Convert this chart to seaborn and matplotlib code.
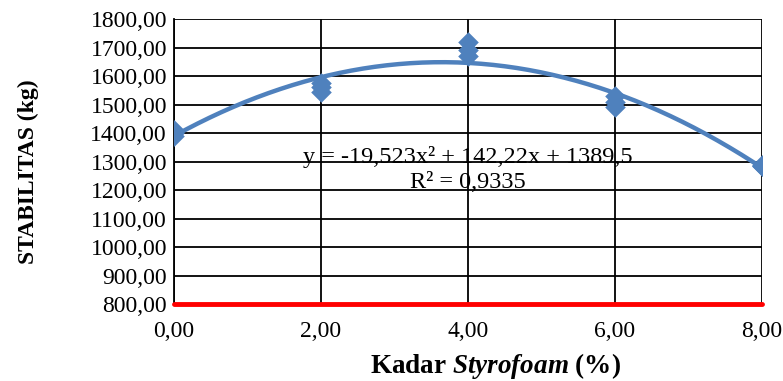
"""
Stabilitas vs kadar styrofoam with polynomial trendline
"""
import numpy as np
import pandas as pd
import matplotlib
matplotlib.use("Agg")
import matplotlib.pyplot as plt
import seaborn as sns

# data (three samples per styrofoam content)
kadar = [0, 0, 0, 2, 2, 2, 4, 4, 4, 6, 6, 6, 8, 8, 8]
stabilitas = [1390, 1400, 1410, 1545, 1560, 1575, 1670, 1692, 1720,
              1490, 1510, 1530, 1284, 1285, 1286]
coef = [-19.523, 142.22, 1389.5]  # trendline coefficients from the label
r2 = 0.9335
x_ticks = [0, 2, 4, 6, 8]
y_ticks = list(range(800, 1801, 100))

sns.set_theme(style="white")
plt.rcParams['font.family'] = ['Liberation Serif', 'DejaVu Serif']
plt.rcParams['text.color'] = 'black'
plt.rcParams['mathtext.fontset'] = 'custom'
plt.rcParams['mathtext.bf'] = 'Liberation Serif:bold'
plt.rcParams['mathtext.it'] = 'Liberation Serif:italic:bold'
plt.rcParams['mathtext.rm'] = 'Liberation Serif'

df = pd.DataFrame({'kadar': kadar, 'stabilitas': stabilitas})
xs = np.linspace(0, 8, 200)
trend = pd.DataFrame({'x': xs, 'y': np.polyval(coef, xs)})

fig = plt.figure(figsize=(7.83, 3.81), dpi=100)
ax = fig.add_axes([0.2222, 0.2021, 0.751, 0.748])

blue = '#4F81BD'
sns.scatterplot(data=df, x='kadar', y='stabilitas', marker='D', s=110,
                color=blue, edgecolor=blue, linewidth=0, ax=ax, zorder=3)
sns.lineplot(data=trend, x='x', y='y', color=blue, linewidth=3.2, ax=ax, zorder=4)

ax.set_xlim(0, 8)
ax.set_ylim(800, 1800)
ax.set_xticks(x_ticks)
ax.set_yticks(y_ticks)
ax.set_xticklabels([f"{v:.2f}".replace('.', ',') for v in x_ticks])
ax.set_yticklabels([f"{v:.2f}".replace('.', ',') for v in y_ticks])
ax.tick_params(axis='both', labelsize=17, length=0, colors='black')
ax.tick_params(axis='x', pad=12)
ax.tick_params(axis='y', pad=5)
ax.grid(True, color='black', linewidth=1.3)
ax.set_axisbelow(True)
for side in ['top', 'right']:
    ax.spines[side].set_visible(False)
ax.spines['left'].set_color('black')
ax.spines['left'].set_linewidth(1.3)
ax.spines['bottom'].set_visible(False)
ax.axhline(800, color='#FF0000', linewidth=3.5, zorder=5, clip_on=False)

ax.set_xlabel('')
ax.set_ylabel('')
fig.text(495 / 783, 1 - 366 / 381,
         r'$\mathbf{Kadar}$ $\mathit{Styrofoam}$ $\mathbf{(\%)}$',
         fontsize=19.5, ha='center', va='center', color='black')
fig.text(28 / 783, 1 - 172 / 381, 'STABILITAS (kg)', fontsize=17,
         fontweight='bold', rotation=90, ha='center', va='center', color='black')

eq = f"y = {coef[0]:.3f}x² + {coef[1]:.2f}x + {coef[2]:.1f}".replace('.', ',')
ax.text(4.0, 1316, eq, fontsize=17.5, ha='center', va='center', zorder=6)
ax.text(4.0, 1228, f"R² = {r2:.4f}".replace('.', ','), fontsize=17.5,
        ha='center', va='center', zorder=6)

fig.savefig('out.png', dpi=100)
